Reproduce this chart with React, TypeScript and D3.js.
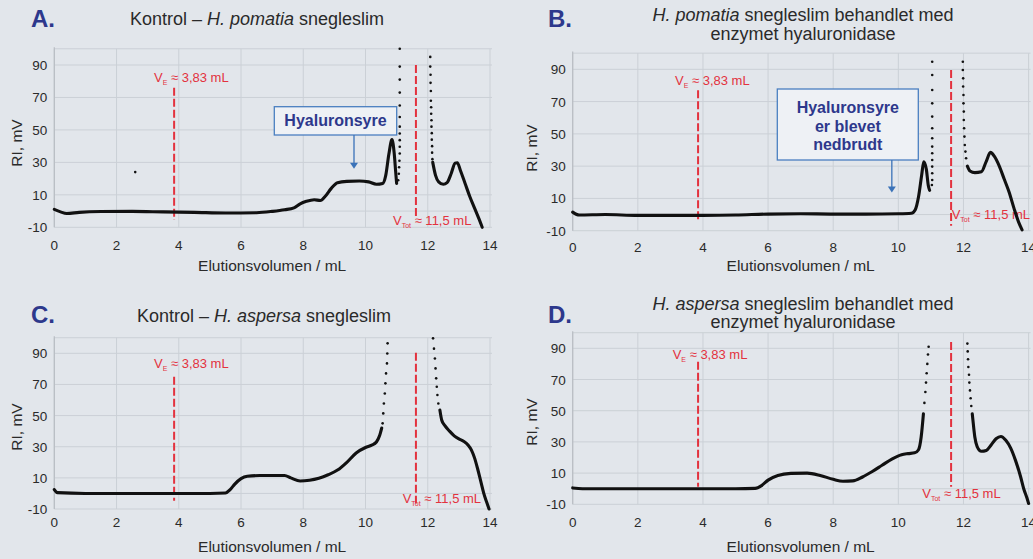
import * as d3 from 'd3';

const xTicks = [0, 2, 4, 6, 8, 10, 12, 14];
const yTicks = [-10, 10, 30, 50, 70, 90];
const yGrid = [-10, 0, 10, 30, 50, 70, 90, 100];

// A: Kontrol - H. pomatia
const pomA1 = [[0, 1], [0.2, -0.5], [0.4, -1.5], [0.8, -0.8], [1.5, -0.3], [2.5, -0.2], [3.5, -0.5], [4.5, -0.8], [5.5, -1.2], [6.5, -1.0], [7.0, -0.2], [7.4, 0.8], [7.7, 2], [7.9, 4.5], [8.1, 6], [8.35, 7], [8.55, 6.5], [8.7, 9], [8.9, 14], [9.1, 17.5], [9.4, 18.3], [9.8, 18.5], [10.1, 18], [10.35, 16.5], [10.55, 17], [10.65, 22], [10.75, 35], [10.85, 44], [10.92, 36], [10.97, 24], [11.0, 17]];
const pomA2 = [[12.16, 30], [12.25, 22], [12.35, 18], [12.5, 16.5], [12.62, 17.5], [12.75, 23], [12.88, 29.5], [12.95, 29.8], [13.05, 25], [13.2, 17], [13.35, 9], [13.5, 2], [13.65, -5], [13.75, -10]];
const pomADots = [[11.05, 19], [11.07, 23], [11.08, 27], [11.09, 31], [11.1, 35.5], [11.1, 39.6], [11.1, 43.7], [11.1, 47.8], [11.1, 52], [11.1, 58], [11.1, 65], [11.1, 73], [11.1, 81], [11.1, 89], [11.1, 100],
  [12.08, 95], [12.08, 89], [12.09, 84], [12.09, 79], [12.1, 74], [12.1, 68], [12.11, 64], [12.11, 60], [12.12, 56], [12.12, 52], [12.13, 48], [12.13, 44], [12.14, 40], [12.14, 36], [12.15, 32], [2.6, 24]];

// B: H. pomatia + hyaluronidase
const pomB1 = [[0, 1.5], [0.2, -0.3], [1, 0], [2, -0.5], [3, -0.5], [4, -0.5], [5, -0.3], [6, 0.3], [7, 0.5], [8, 0.3], [9, 0.3], [10, 0.5], [10.4, 0.8], [10.52, 3], [10.62, 11], [10.72, 25], [10.78, 32.7], [10.86, 28], [10.92, 18], [10.96, 15]];
const pomB2 = [[12.12, 30], [12.2, 27], [12.35, 26], [12.55, 26.5], [12.7, 33], [12.83, 38.5], [12.95, 36], [13.1, 30], [13.25, 22], [13.4, 14], [13.55, 4], [13.7, -5], [13.8, -9.5]];
const pomBDots = [[11.03, 18.3], [11.04, 21.4], [11.04, 25.6], [11.04, 29.7], [11.04, 33.8], [11.04, 38], [11.04, 42.1], [11.04, 47.3], [11.04, 53.5], [11.04, 60.7], [11.04, 68.9], [11.04, 77.2], [11.04, 86.5], [11.04, 94.7],
  [11.98, 94.7], [11.98, 89.6], [11.99, 84.4], [11.99, 79.3], [12.0, 74.1], [12.0, 68.9], [12.01, 63.8], [12.01, 58.6], [12.02, 53.5], [12.03, 48.3], [12.04, 43.1], [12.06, 39], [12.08, 34.9]];

// C: Kontrol - H. aspersa
const aspC1 = [[0, 2.5], [0.1, 0.5], [1, 0], [2, 0], [3, 0], [4, 0], [5, 0], [5.5, 0.3], [5.65, 2.5], [5.8, 6], [6.0, 9.5], [6.2, 11], [6.6, 11.5], [7.0, 11.5], [7.4, 11.5], [7.6, 10], [7.9, 8], [8.2, 8.5], [8.5, 9.8], [8.8, 12], [9.1, 15], [9.4, 20], [9.7, 26], [10.0, 29.5], [10.2, 31], [10.35, 33], [10.45, 37], [10.52, 42]];
const aspC2 = [[12.39, 53.5], [12.45, 47], [12.55, 43.5], [12.7, 40], [12.85, 37], [13.0, 35], [13.15, 33.5], [13.3, 31], [13.4, 28], [13.5, 23], [13.6, 16], [13.7, 8], [13.8, 0], [13.9, -6], [13.97, -10]];
const aspCDots = [[10.55, 45], [10.57, 51.4], [10.59, 57.8], [10.62, 64.2], [10.64, 70.7], [10.66, 77.1], [10.69, 83.5], [10.7, 89.9], [10.71, 96.4],
  [12.17, 99.6], [12.2, 93], [12.23, 86.7], [12.25, 80.3], [12.27, 73.9], [12.29, 68.5], [12.31, 63.2], [12.34, 57.8]];

// D: H. aspersa + hyaluronidase
const aspD1 = [[0, 0.5], [0.3, 0], [1, 0], [2, 0], [3, 0], [4, 0], [5, 0], [5.6, 0.2], [5.8, 2], [6.0, 5.5], [6.3, 8.5], [6.7, 9.8], [7.2, 10], [7.6, 8.5], [8.0, 6], [8.3, 4.8], [8.6, 5], [8.9, 7.5], [9.2, 11], [9.5, 15], [9.8, 19], [10.1, 21.8], [10.3, 22.5], [10.5, 23], [10.62, 25], [10.7, 33], [10.77, 48]];
const aspD2 = [[12.27, 48], [12.3, 42], [12.35, 33], [12.42, 27], [12.55, 24], [12.7, 24.5], [12.85, 28], [13.0, 32], [13.15, 33.5], [13.3, 31], [13.45, 26], [13.6, 18], [13.75, 8], [13.85, 0], [13.95, -6], [14.0, -9.5]];
const aspDDots = [[10.8, 55], [10.83, 62], [10.85, 68], [10.87, 74], [10.89, 80], [10.91, 86], [10.93, 91],
  [12.12, 93], [12.13, 88], [12.14, 83], [12.15, 78], [12.17, 73], [12.18, 68], [12.2, 63], [12.22, 58], [12.24, 53]];

const vE = 3.85;
const vTot = 11.62;

const blue = '#2d388c';
const red = '#e3323e';
const font = '"Liberation Sans", Arial, sans-serif';

const panels = [
  {
    letter: 'A.', lx: 31, ly: 27,
    title: [[{ t: 'Kontrol – ', i: false }, { t: 'H. pomatia', i: true }, { t: ' snegleslim', i: false }]],
    tx: 257, ty: [25], tfs: 18,
    x0: 54.3, x14: 490, y90: 65, yM10: 227.3,
    tickY: 250, titleY: 271, yTitleX: 17, yTitleY: 143,
    lines: [pomA1, pomA2], dots: pomADots,
    vE: [76, -5.5], vTot: [90, -4.5],
    vELabel: [154, 82], vTotLabel: [393, 225],
    box: { x: 274.3, y: 106.7, w: 122.4, h: 28.3, lines: ['Hyaluronsyre'], ty: 126 },
    arrow: { x: 9.63, y1: 135, to: 26 },
  },
  {
    letter: 'B.', lx: 548, ly: 27,
    title: [[{ t: 'H. pomatia', i: true }, { t: ' snegleslim behandlet med', i: false }], [{ t: 'enzymet hyaluronidase', i: false }]],
    tx: 803, ty: [21, 40], tfs: 18,
    x0: 572.7, x14: 1028.6, y90: 69.3, yM10: 230.7,
    tickY: 252, titleY: 271, yTitleX: 532, yTitleY: 148,
    lines: [pomB1, pomB2], dots: pomBDots,
    vE: [77, -4.4], vTot: [89.5, -7],
    vELabel: [675, 85], vTotLabel: [951.7, 219],
    box: { x: 777.3, y: 89, w: 141, h: 71, lines: ['Hyaluronsyre', 'er blevet', 'nedbrudt'], ty: 113 },
    arrow: { x: 9.8, y1: 160, to: 13.6 },
  },
  {
    letter: 'C.', lx: 31, ly: 323,
    title: [[{ t: 'Kontrol – ', i: false }, { t: 'H. aspersa', i: true }, { t: ' snegleslim', i: false }]],
    tx: 264, ty: [322], tfs: 18,
    x0: 54.3, x14: 490, y90: 353.3, yM10: 509,
    tickY: 527, titleY: 552, yTitleX: 17, yTitleY: 427,
    lines: [aspC1, aspC2], dots: aspCDots,
    vE: [75, -4.7], vTot: [90.4, -6.4],
    vELabel: [154, 368], vTotLabel: [402.7, 503],
    box: null, arrow: null,
  },
  {
    letter: 'D.', lx: 548, ly: 323,
    title: [[{ t: 'H. aspersa', i: true }, { t: ' snegleslim behandlet med', i: false }], [{ t: 'enzymet hyaluronidase', i: false }]],
    tx: 803, ty: [310, 328], tfs: 18,
    x0: 572.7, x14: 1028.6, y90: 348.3, yM10: 504.3,
    tickY: 527, titleY: 552, yTitleX: 532, yTitleY: 422,
    lines: [aspD1, aspD2], dots: aspDDots,
    vE: [81.4, 1.3], vTot: [94, 1.3],
    vELabel: [672.7, 359], vTotLabel: [922.3, 498],
    box: null, arrow: null,
  },
];

function Panel({ p }) {
  const x = d3.scaleLinear().domain([0, 14]).range([p.x0, p.x14]);
  const y = d3.scaleLinear().domain([-10, 90]).range([p.yM10, p.y90]);
  const line = d3.line().x(d => x(d[0])).y(d => y(d[1])).curve(d3.curveMonotoneX);

  return (
    <g>
      {/* grid */}
      {yGrid.map(v => (
        <line key={'h' + v} x1={p.x0} x2={x(14) + 2} y1={y(v)} y2={y(v)} stroke="#cbd0d6" strokeWidth={1} />
      ))}
      {xTicks.map(v => (
        <line key={'v' + v} x1={x(v)} x2={x(v)} y1={y(100)} y2={y(-10)} stroke="#cbd0d6" strokeWidth={1} />
      ))}
      <line x1={p.x0} x2={p.x0} y1={y(101)} y2={y(-10)} stroke="#b8bdc3" strokeWidth={1.2} />

      {/* axis labels */}
      {yTicks.map(v => (
        <text key={'yt' + v} x={p.x0 - 7} y={y(v) + 5} textAnchor="end" fontSize={13.5} fill="#2a2a2a" fontFamily={font}>{v}</text>
      ))}
      {xTicks.map(v => (
        <text key={'xt' + v} x={x(v)} y={p.tickY} textAnchor="middle" fontSize={13.5} fill="#2a2a2a" fontFamily={font}>{v}</text>
      ))}
      <text x={(p.x0 + x(14)) / 2} y={p.titleY} textAnchor="middle" fontSize={15.5} fill="#2a2a2a" fontFamily={font}>Elutionsvolumen / mL</text>
      <text transform={`translate(${p.yTitleX + 5},${p.yTitleY}) rotate(-90)`} textAnchor="middle" fontSize={15.5} fill="#2a2a2a" fontFamily={font}>RI, mV</text>

      {/* titles */}
      <text x={p.lx} y={p.ly} fontSize={24} fontWeight="bold" fill={blue} fontFamily={font}>{p.letter}</text>
      {p.title.map((segs, i) => (
        <text key={'t' + i} x={p.tx} y={p.ty[i]} textAnchor="middle" fontSize={p.tfs} fill="#2a2a2a" fontFamily={font}>
          {segs.map((s, j) => (
            <tspan key={j} fontStyle={s.i ? 'italic' : 'normal'}>{s.t}</tspan>
          ))}
        </text>
      ))}

      {/* reference lines */}
      <line x1={x(vE)} x2={x(vE)} y1={y(p.vE[0])} y2={y(p.vE[1])} stroke={red} strokeWidth={2} strokeDasharray="8,3" />
      <line x1={x(vTot)} x2={x(vTot)} y1={y(p.vTot[0])} y2={y(p.vTot[1])} stroke={red} strokeWidth={2} strokeDasharray="8,3" />
      <text x={p.vELabel[0]} y={p.vELabel[1]} fontSize={13} fill={red} fontFamily={font}>
        V<tspan fontSize={7} dy={3}>E</tspan><tspan dy={-3}> ≈ 3,83 mL</tspan>
      </text>
      <text x={p.vTotLabel[0]} y={p.vTotLabel[1]} fontSize={13} fill={red} fontFamily={font}>
        V<tspan fontSize={7} dy={3}>Tot</tspan><tspan dy={-3}> ≈ 11,5 mL</tspan>
      </text>

      {/* data */}
      {p.lines.map((l, i) => (
        <path key={'l' + i} d={line(l)} fill="none" stroke="#111" strokeWidth={3.1} strokeLinejoin="round" strokeLinecap="round" />
      ))}
      {p.dots.map((d, i) => (
        <circle key={'d' + i} cx={x(d[0])} cy={y(d[1])} r={1.3} fill="#111" />
      ))}

      {/* annotation */}
      {p.box && (
        <g>
          <rect x={p.box.x} y={p.box.y} width={p.box.w} height={p.box.h} fill="#eef1f5" stroke="#4a7fc0" strokeWidth={1.3} />
          {p.box.lines.map((t, i) => (
            <text key={'b' + i} x={p.box.x + p.box.w / 2} y={p.box.ty + i * 18.5} textAnchor="middle" fontSize={16} fontWeight="bold" fill={blue} fontFamily={font}>{t}</text>
          ))}
        </g>
      )}
      {p.arrow && (
        <g>
          <line x1={x(p.arrow.x)} x2={x(p.arrow.x)} y1={p.arrow.y1} y2={y(p.arrow.to) - 5} stroke="#3a72b8" strokeWidth={1.3} />
          <path d={`M${x(p.arrow.x) - 4},${y(p.arrow.to) - 6}L${x(p.arrow.x) + 4},${y(p.arrow.to) - 6}L${x(p.arrow.x)},${y(p.arrow.to)}Z`} fill="#3a72b8" />
        </g>
      )}
    </g>
  );
}

export default function App() {
  return (
    <svg width={1033} height={559} style={{ position: 'absolute', left: 0, top: 0, background: '#e2e6eb' }}>
      <rect width={1033} height={559} fill="#e2e6eb" />
      {panels.map(p => <Panel key={p.letter} p={p} />)}
    </svg>
  );
}
